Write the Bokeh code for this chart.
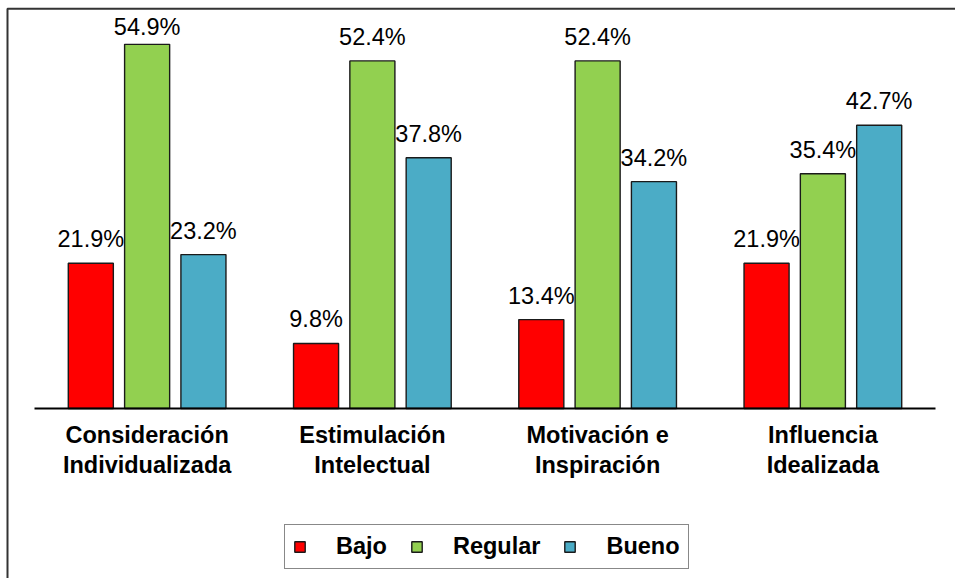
from bokeh.plotting import figure
from bokeh.models import ColumnDataSource, Range1d, Legend, LegendItem
from bokeh.transform import dodge
from bokeh.core.properties import value
from bokeh.embed import file_html
from bokeh.resources import INLINE

# Dimensions of transformational leadership and percentage per level
dimensions = ["Consideración\nIndividualizada", "Estimulación\nIntelectual",
              "Motivación e\nInspiración", "Influencia\nIdealizada"]
bajo = [21.9, 9.8, 13.4, 21.9]
regular = [54.9, 52.4, 52.4, 35.4]
bueno = [23.2, 37.8, 34.2, 42.7]
levels = ["Bajo", "Regular", "Bueno"]
colors = ["#FF0000", "#92D050", "#4BACC6"]

FONT = "Liberation Sans"
FSIZE = "23.5px"
W, H = 955, 578

# plot-area geometry in canvas pixels
PLOT_L, PLOT_R = 34, 935      # horizontal extent of the category axis
BASE_Y, TOP_Y = 408, 10       # baseline and top of the value scale
YMAX = 60.0
ppu = (BASE_Y - TOP_Y) / YMAX                 # pixels per percentage point
ppx = (PLOT_R - PLOT_L) / len(dimensions)     # pixels per category


def px_x(px):
    return (px - PLOT_L) / ppx


def px_y(py):
    return (BASE_Y - py) / ppu


series = {"Bajo": bajo, "Regular": regular, "Bueno": bueno}
data = {"pos": [i + 0.5 for i in range(len(dimensions))], "dim": dimensions}
for name, vals in series.items():
    data[name] = vals
    data[name + "_txt"] = ["%.1f%%" % v for v in vals]
    # label baseline above the bar, kept inside the chart area
    data[name + "_ly"] = [min(v + 24 / ppu, px_y(26)) for v in vals]
src = ColumnDataSource(data)

p = figure(x_range=Range1d(px_x(0), px_x(W)), y_range=Range1d(px_y(H), px_y(0)),
           width=W, height=H, output_backend="svg", toolbar_location=None,
           min_border=0)

offsets = [-0.25, 0.0, 0.25]
renderers = []
for name, off, col in zip(levels, offsets, colors):
    x = dodge("pos", off)
    r = p.vbar(x=x, top=name, width=0.2, source=src, fill_color=col,
               line_color="#1a1a1a", line_width=1.4)
    renderers.append(r)
    p.text(x=x, y=name + "_ly", text=name + "_txt", source=src,
           text_align="center", text_baseline="alphabetic",
           text_font=value(FONT), text_font_size=value(FSIZE),
           text_color="#000000")

# category axis: baseline and two-line labels
p.line(x=[0, len(dimensions)], y=[0, 0], line_color="black", line_width=2)
p.text(x="pos", y=-13 / ppu, text="dim", source=src,
       text_align="center", text_baseline="top", text_line_height=1.18,
       text_font=value(FONT), text_font_size=value(FSIZE),
       text_font_style="bold", text_color="#000000")

legend = Legend(items=[LegendItem(label=l, renderers=[r])
                       for l, r in zip(levels, renderers)],
                orientation="horizontal", location=(284, H - 569),
                padding=8, margin=0, spacing=23, label_standoff=30,
                glyph_width=13, glyph_height=13,
                label_text_font=FONT, label_text_font_size=FSIZE,
                label_text_font_style="bold", label_text_color="#000000",
                border_line_color="#111111", border_line_width=1.5,
                background_fill_color="white", background_fill_alpha=1)
p.add_layout(legend, "center")

# chart-area frame (left and top edges; the rest runs off the page)
p.line(x=[px_x(7), px_x(7), px_x(W + 20)],
       y=[px_y(H + 20), px_y(8.3), px_y(8.3)],
       line_color="#333333", line_width=2)

p.axis.visible = False
p.xgrid.grid_line_color = None
p.ygrid.grid_line_color = None
p.outline_line_color = None

open("out.html", "w").write(file_html(p, INLINE))
